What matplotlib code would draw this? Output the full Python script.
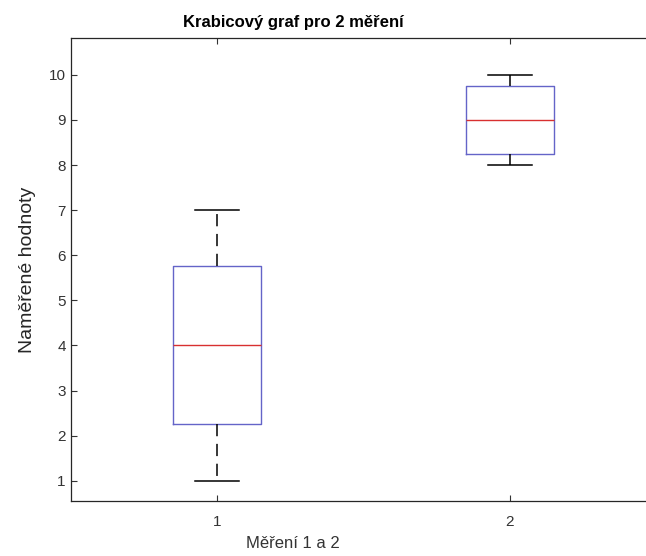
import matplotlib
matplotlib.use("Agg")
import matplotlib.pyplot as plt

plt.rcParams['font.family'] = ['Liberation Sans', 'DejaVu Sans']

# box statistics for both measurements
labels = ['1', '2']
whislo = [1, 8]
q1 = [2.25, 8.25]
med = [4, 9]
q3 = [5.75, 9.75]
whishi = [7, 10]

stats = []
for i in range(len(labels)):
    stats.append({'label': labels[i], 'whislo': whislo[i], 'q1': q1[i], 'med': med[i],
                  'q3': q3[i], 'whishi': whishi[i], 'fliers': []})

fig = plt.figure(figsize=(6.46, 5.56), dpi=100)
# axes run a little past the right edge of the figure
left, right, top, bottom = 70.5, 656.5, 38.3, 501
ax = fig.add_axes([left / 646, 1 - bottom / 556, (right - left) / 646, (bottom - top) / 556])

ax.bxp(stats, positions=[1, 2], widths=0.3, showfliers=False,
       boxprops=dict(color='#6464c8', linewidth=1),
       medianprops=dict(color='#d83030', linewidth=1),
       whiskerprops=dict(color='black', linestyle=(0, (8, 5)), linewidth=1.1),
       capprops=dict(color='black', linewidth=1.1),
       capwidths=0.15)

ax.set_xlim(0.5, 2.5)
ax.set_ylim(0.55, 10.81)
ax.set_yticks(range(1, 11))
ax.set_xticks([1, 2])
ax.set_xticklabels(labels)
ax.tick_params(direction='in', top=True, right=False, length=4, labelsize=11,
               colors='#333333', width=0.8)
ax.tick_params(axis='x', pad=10)
for s in ax.spines.values():
    s.set_color('#262626')
    s.set_linewidth(0.9)

cx = (293 - left) / (right - left)
ax.set_title('Krabicový graf pro 2 měření', fontsize=12, fontweight='bold', x=cx, pad=8)
ax.set_xlabel('Měření 1 a 2', fontsize=12, color='#333333', x=cx, labelpad=5)
ax.set_ylabel('Naměřené hodnoty', fontsize=14, color='#262626', labelpad=9)

fig.savefig('out.png', dpi=100)
